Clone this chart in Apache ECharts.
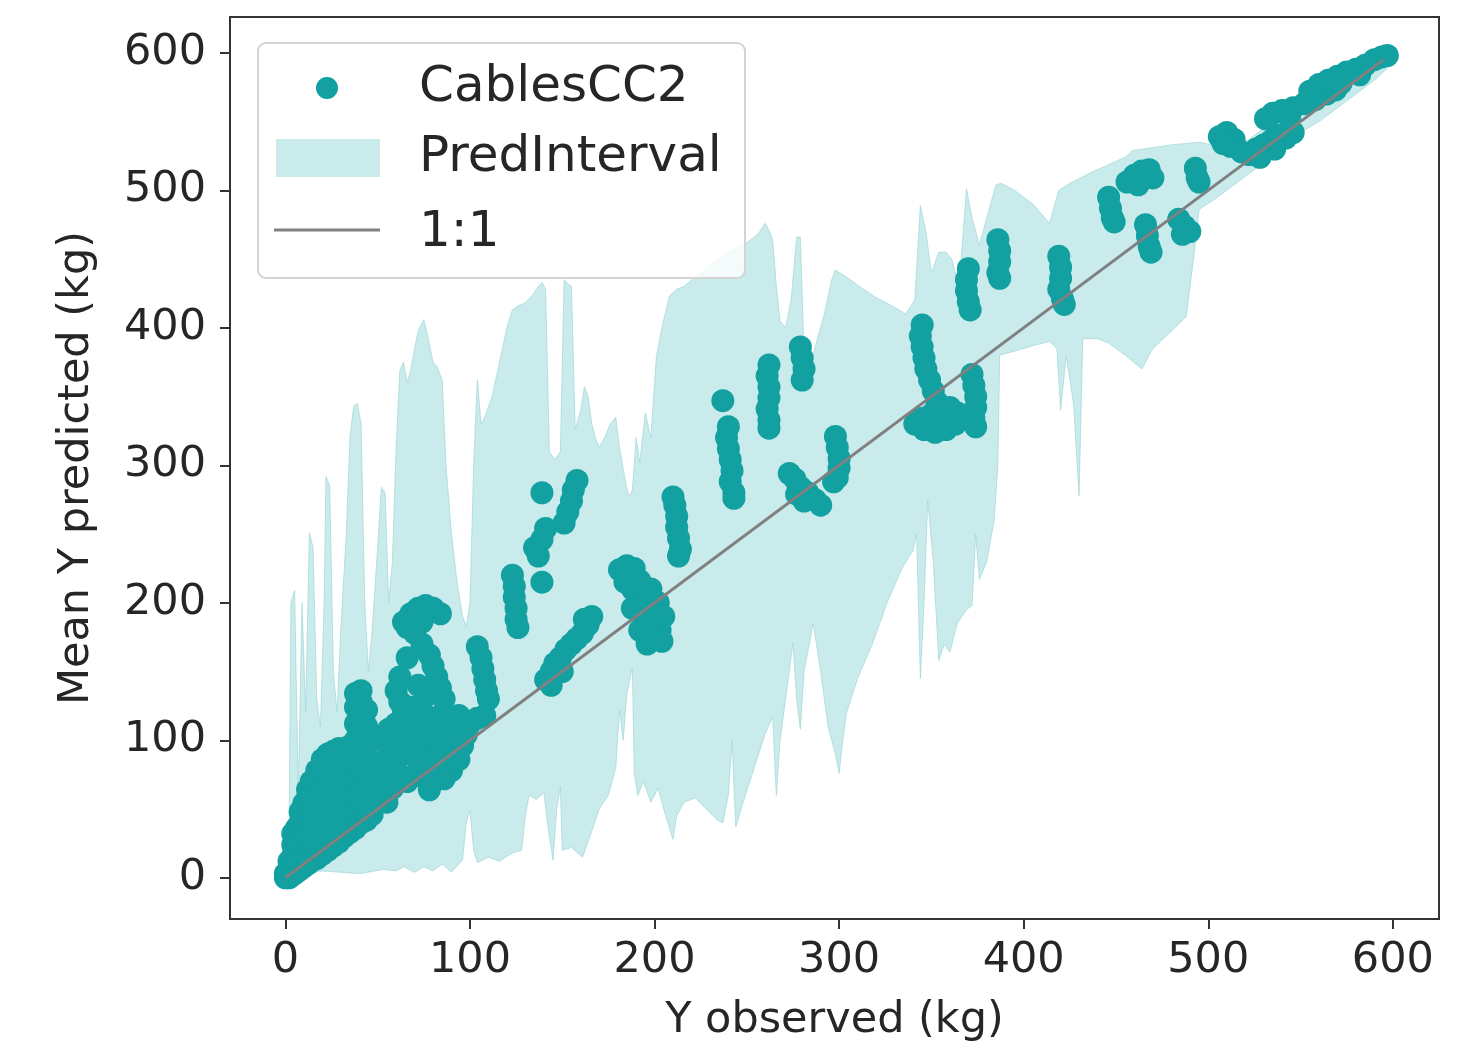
<!DOCTYPE html>
<html>
<head>
<meta charset="utf-8">
<title>CablesCC2 observed vs predicted</title>
<script src="https://cdn.jsdelivr.net/npm/echarts@6/dist/echarts.min.js"></script>
<style>
  html, body { margin: 0; padding: 0; background: #fff; }
  #chart { width: 1477px; height: 1050px; }
</style>
</head>
<body>
<div id="chart"></div>
<script>
// tick values for both axes
var xTicks = [0, 100, 200, 300, 400, 500, 600];
var yTicks = [0, 100, 200, 300, 400, 500, 600];

// prediction interval, upper edge (x, y) left to right
var bandUpperX = [-3, 0, 2, 3, 5, 7, 9, 11, 13, 15, 17, 19, 21, 22, 24, 26, 28, 30, 33, 35, 37, 39, 41, 43, 45, 47, 50, 52, 54, 56, 58, 60, 62, 64, 66, 68, 70, 72, 75, 77, 80, 82, 85, 87, 90, 93, 96, 98, 100, 102, 104, 106, 108, 112, 116, 120, 123, 126, 130, 134, 137, 139, 141, 143, 146, 149, 151, 153, 155, 157, 160, 162, 164, 166, 168, 170, 173, 176, 179, 181, 184, 186, 188, 190, 192, 195, 198, 201, 204, 208, 212, 216, 222, 230, 240, 250, 256, 260, 262, 264, 266, 268, 271, 274, 277, 279, 281, 284, 287, 292, 296, 298, 305, 311, 320, 330, 336, 341, 344, 347, 350, 354, 358, 361, 365, 369, 372, 376, 380, 385, 388, 395, 405, 414, 419, 425, 435, 445, 455, 459, 470, 480, 495, 505, 515, 525, 535, 545, 555, 565, 575, 585, 595, 598];
var bandUpperY = [2, 12, 30, 200, 209, 60, 200, 120, 251, 240, 130, 110, 200, 292, 285, 150, 120, 180, 250, 320, 343, 345, 330, 200, 150, 180, 240, 284, 280, 200, 230, 313, 369, 375, 360, 370, 385, 398, 406, 395, 375, 372, 362, 300, 250, 215, 190, 183, 200, 300, 362, 330, 335, 350, 375, 400, 413, 416, 418, 424, 430, 433, 428, 310, 304, 310, 435, 432, 430, 326, 340, 357, 350, 330, 320, 313, 320, 330, 335, 313, 290, 277, 282, 320, 302, 338, 320, 379, 400, 423, 428, 430, 437, 445, 455, 462, 468, 476, 471, 464, 430, 405, 400, 420, 466, 466, 380, 368, 386, 410, 435, 442, 436, 430, 422, 415, 410, 420, 489, 470, 440, 455, 455, 450, 430, 501, 480, 460, 480, 504, 505, 500, 490, 476, 500, 505, 512, 518, 524, 529, 531, 533, 535, 532, 530, 540, 550, 560, 570, 578, 585, 595, 602, 600];

// prediction interval, lower edge (x, y) left to right
var bandLowerX = [-3, 0, 5, 10, 20, 30, 40, 53, 60, 64, 70, 75, 80, 85, 90, 96, 98, 100, 102, 104, 110, 116, 123, 128, 130, 132, 136, 140, 143, 145, 147, 149, 150, 155, 161, 165, 170, 175, 179, 181, 183, 185, 188, 189, 191, 194, 198, 202, 206, 210, 212, 216, 222, 228, 234, 237, 240, 242, 244, 248, 254, 260, 264, 266, 268, 272, 275, 277, 279, 281, 286, 290, 294, 298, 300, 302, 304, 310, 318, 326, 334, 340, 342, 344, 346, 348, 351, 354, 357, 360, 364, 369, 372, 374, 376, 380, 384, 386, 387, 395, 405, 414, 418, 420, 423, 427, 430, 432, 440, 446, 455, 464, 470, 478, 488, 492, 495, 505, 515, 520, 530, 540, 550, 560, 570, 580, 590, 598];
var bandLowerY = [-3, -5, -2, 2, 5, 4, 3, 6, 5, 8, 4, 8, 5, 10, 4, 13, 40, 49, 20, 11, 15, 12, 18, 20, 45, 60, 57, 62, 30, 13, 50, 66, 20, 22, 15, 30, 50, 60, 80, 122, 100, 134, 153, 76, 60, 70, 55, 65, 45, 28, 45, 55, 58, 50, 42, 40, 60, 100, 37, 55, 80, 105, 117, 60, 100, 140, 171, 130, 108, 150, 185, 150, 110, 90, 76, 100, 120, 145, 170, 200, 225, 238, 250, 145, 200, 275, 230, 158, 170, 164, 185, 195, 198, 250, 217, 230, 260, 300, 380, 383, 387, 390, 385, 340, 380, 345, 278, 392, 392, 389, 380, 370, 385, 395, 408, 450, 486, 495, 505, 510, 520, 532, 542, 550, 560, 570, 580, 590];

// CablesCC2 points: [Y observed, mean Y predicted]
var cablesCC2 = [
  [0, 0], [0, 3], [2, 0], [2, 6], [2, 12],
  [4, 2], [4, 8], [4, 16], [4, 24], [4, 32],
  [6, 4], [6, 12], [6, 20], [6, 28], [6, 36],
  [8, 6], [8, 14], [8, 22], [8, 30], [8, 40], [8, 48],
  [10, 8], [10, 16], [10, 24], [10, 34], [10, 44], [10, 54],
  [12, 10], [12, 18], [12, 28], [12, 38], [12, 48], [12, 58], [12, 64],
  [14, 12], [14, 22], [14, 32], [14, 42], [14, 52], [14, 62], [14, 70],
  [17, 14], [17, 24], [17, 34], [17, 44], [17, 56], [17, 68], [17, 78],
  [20, 17], [20, 28], [20, 40], [20, 52], [20, 64], [20, 76], [20, 86],
  [23, 20], [23, 32], [23, 44], [23, 56], [23, 68], [23, 80], [23, 90],
  [26, 23], [26, 35], [26, 47], [26, 60], [26, 72], [26, 84], [26, 92],
  [29, 26], [29, 38], [29, 50], [29, 62], [29, 74], [29, 86], [29, 94],
  [32, 30], [32, 42], [32, 54], [32, 66], [32, 78], [32, 90],
  [35, 33], [35, 45], [35, 57], [35, 70], [35, 84], [35, 96],
  [38, 36], [38, 48], [38, 60], [38, 72], [38, 86], [38, 100], [38, 112], [38, 124], [38, 134],
  [41, 40], [41, 52], [41, 64], [41, 78], [41, 92], [41, 106], [41, 118], [41, 128], [41, 136],
  [44, 42], [44, 54], [44, 66], [44, 80], [44, 95], [44, 110], [44, 122],
  [47, 46], [47, 58], [47, 70], [47, 84], [47, 100],
  [50, 60], [52, 70], [54, 80], [56, 90], [58, 100], [56, 108], [60, 112], [62, 104], [64, 96],
  [60, 85], [62, 75], [58, 65], [55, 55], [66, 70], [70, 75], [74, 80], [76, 72], [78, 90],
  [80, 100], [82, 110], [84, 118], [74, 100], [72, 110], [76, 118], [68, 90], [70, 100],
  [86, 80], [88, 90], [90, 100], [92, 110], [94, 118], [96, 96], [98, 104], [100, 112],
  [104, 116], [108, 118], [90, 78], [94, 86], [86, 72], [80, 70], [82, 78], [78, 64],
  [64, 186], [68, 192], [72, 196], [76, 198], [80, 196], [84, 192], [70, 178], [74, 170],
  [78, 162], [80, 154], [82, 146], [84, 138], [86, 130], [66, 160], [62, 146], [60, 136],
  [62, 128], [64, 120], [68, 124], [72, 140], [76, 132], [66, 182], [74, 186],
  [104, 168], [106, 160], [107, 152], [108, 144], [109, 136], [110, 130],
  [123, 220], [124, 212], [124, 204], [125, 196], [125, 188], [126, 182], [139, 215],
  [135, 240], [139, 246], [141, 254], [137, 234], [139, 280],
  [151, 258], [153, 266], [155, 274], [156, 282], [158, 289],
  [141, 144], [144, 150], [146, 156], [149, 160], [152, 166], [155, 170], [158, 174],
  [161, 178], [164, 184], [166, 190], [162, 188], [150, 150], [144, 140],
  [181, 224], [185, 227], [189, 225], [184, 215], [188, 210], [192, 206], [196, 200],
  [199, 193], [201, 186], [203, 180], [200, 174], [196, 170], [192, 180], [188, 196],
  [194, 190], [198, 210], [202, 200], [205, 190], [186, 220], [192, 216], [196, 182], [204, 172],
  [210, 277], [211, 271], [212, 263], [212, 255], [213, 247], [214, 239], [213, 234],
  [237, 347],
  [240, 328], [239, 320], [240, 312], [241, 304], [242, 296], [241, 288], [243, 280], [243, 276],
  [262, 373], [261, 365], [262, 357], [262, 349], [261, 341], [262, 333], [262, 327],
  [279, 386], [280, 378], [281, 370], [280, 362],
  [273, 294], [276, 290], [279, 284], [283, 280], [287, 275], [290, 271], [281, 274], [277, 279],
  [298, 321], [299, 313], [300, 305], [300, 298], [299, 291], [297, 288],
  [345, 402], [344, 394], [345, 386], [346, 378], [347, 370], [349, 362], [351, 354], [353, 346],
  [341, 330], [346, 326], [352, 324], [358, 326], [363, 330], [357, 336], [350, 337],
  [354, 344], [360, 342], [344, 334], [364, 338],
  [372, 366], [373, 358], [374, 350], [374, 342], [373, 334], [374, 328],
  [370, 443], [369, 435], [369, 427], [370, 419], [371, 413],
  [386, 464], [387, 456], [387, 448], [386, 440], [387, 436],
  [419, 452], [420, 444], [420, 436], [419, 428], [421, 421], [422, 417],
  [446, 495], [447, 487], [448, 480], [449, 477],
  [456, 506], [460, 511], [464, 514], [468, 515], [462, 504], [470, 509],
  [466, 475], [467, 467], [468, 459], [469, 455],
  [484, 479], [487, 474], [490, 470], [486, 468],
  [493, 516], [494, 509], [495, 506],
  [506, 539], [510, 542], [514, 537], [512, 532], [508, 534],
  [518, 528], [522, 526], [526, 530], [530, 533], [534, 536], [538, 540], [542, 538],
  [546, 542], [528, 524], [536, 530],
  [531, 552], [535, 556], [540, 558], [546, 560], [552, 563], [558, 566], [564, 570],
  [569, 573], [544, 553],
  [555, 572], [560, 577], [565, 580], [570, 583], [575, 586], [580, 588], [585, 591],
  [590, 595], [594, 597], [597, 598], [572, 578], [582, 584]
];

// 1:1 reference line
var oneToOne = [[0, 0], [595, 595]];

var pointColor = '#12a0a0';
var bandColor = '#c9ebeb';
var lineColor = '#808080';
var textColor = '#262626';
var fontFamily = 'DejaVu Sans';

var myChart = echarts.init(document.getElementById('chart'), null, { renderer: 'canvas' });

var axisCommon = {
  type: 'value',
  axisLine: { show: true, onZero: false, lineStyle: { color: '#333', width: 2 } },
  axisTick: { show: true, inside: false, length: 10, lineStyle: { color: '#333', width: 2 } },
  axisLabel: { color: textColor, fontSize: 43, fontFamily: fontFamily },
  splitLine: { show: false },
  nameLocation: 'middle',
  nameTextStyle: { color: textColor, fontSize: 43, fontFamily: fontFamily }
};

var option = {
  animation: false,
  backgroundColor: '#fff',
  grid: {
    left: 230,
    right: 38,
    top: 17,
    bottom: 131,
    show: true,
    borderColor: '#333',
    borderWidth: 2
  },
  xAxis: echarts.util.merge({
    min: -30,
    max: 625,
    name: 'Y observed (kg)',
    nameGap: 80,
    axisLabel: { margin: 20, customValues: xTicks },
    axisTick: { customValues: xTicks }
  }, axisCommon),
  yAxis: echarts.util.merge({
    min: -30,
    max: 626,
    name: 'Mean Y predicted (kg)',
    nameGap: 132,
    nameRotate: 90,
    axisLabel: { margin: 24, customValues: yTicks },
    axisTick: { customValues: yTicks }
  }, axisCommon),
  series: [
    {
      name: 'PredInterval',
      type: 'custom',
      data: [[0, 0]],
      silent: true,
      renderItem: function (params, api) {
        var pts = [];
        for (var i = 0; i < bandUpperX.length; i++) {
          pts.push(api.coord([bandUpperX[i], bandUpperY[i]]));
        }
        for (var j = bandLowerX.length - 1; j >= 0; j--) {
          pts.push(api.coord([bandLowerX[j], bandLowerY[j]]));
        }
        return {
          type: 'polygon',
          shape: { points: pts },
          style: { fill: bandColor, stroke: 'rgba(160,215,215,0.7)', lineWidth: 1 }
        };
      }
    },
    {
      name: 'CablesCC2',
      type: 'scatter',
      symbol: 'circle',
      symbolSize: 23,
      data: cablesCC2,
      itemStyle: { color: pointColor, opacity: 1 }
    },
    {
      name: '1:1',
      type: 'line',
      data: oneToOne,
      symbol: 'none',
      lineStyle: { color: lineColor, width: 3 }
    }
  ],
  // matplotlib-style legend box
  graphic: [
    {
      type: 'rect', z: 100,
      shape: { x: 258, y: 43, width: 487, height: 235, r: 8 },
      style: { fill: 'rgba(255,255,255,0.8)', stroke: '#d4d4d4', lineWidth: 2 }
    },
    {
      type: 'circle', z: 101,
      shape: { cx: 327, cy: 88, r: 11 },
      style: { fill: pointColor }
    },
    {
      type: 'rect', z: 101,
      shape: { x: 276, y: 139, width: 104, height: 38 },
      style: { fill: bandColor }
    },
    {
      type: 'line', z: 101,
      shape: { x1: 274, y1: 230, x2: 380, y2: 230 },
      style: { stroke: lineColor, lineWidth: 3 }
    },
    {
      type: 'text', z: 101, x: 419, y: 88,
      style: { text: 'CablesCC2', fill: textColor, font: '50px "DejaVu Sans"', verticalAlign: 'middle' }
    },
    {
      type: 'text', z: 101, x: 419, y: 158,
      style: { text: 'PredInterval', fill: textColor, font: '50px "DejaVu Sans"', verticalAlign: 'middle' }
    },
    {
      type: 'text', z: 101, x: 419, y: 233,
      style: { text: '1:1', fill: textColor, font: '50px "DejaVu Sans"', verticalAlign: 'middle' }
    }
  ]
};

myChart.setOption(option);

window.addEventListener('resize', function () {
  myChart.resize();
});
</script>
</body>
</html>
